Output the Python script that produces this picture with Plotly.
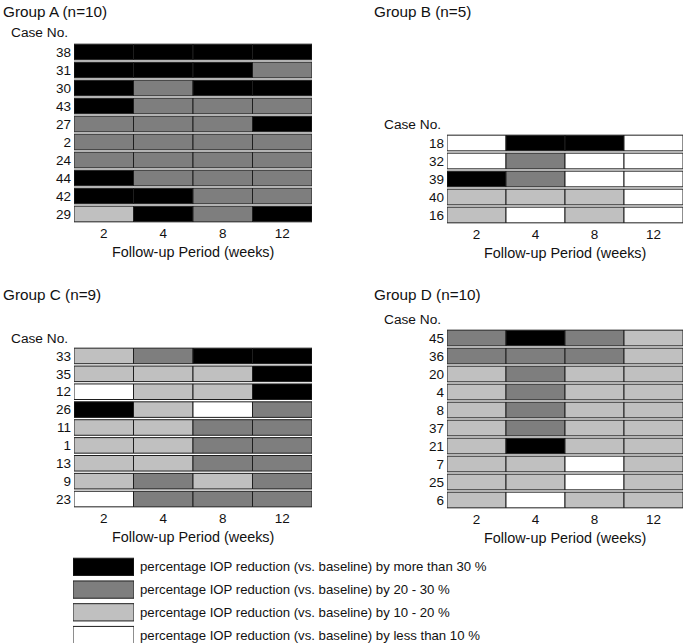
import plotly.graph_objects as go

W, H = 685, 643

weeks = ["2", "4", "8", "12"]

# Levels: 3 = >30 %, 2 = 20-30 %, 1 = 10-20 %, 0 = <10 %
cases_A = ["38", "31", "30", "43", "27", "2", "24", "44", "42", "29"]
levels_A = [[3, 3, 3, 3], [3, 3, 3, 2], [3, 2, 3, 3], [3, 2, 2, 2], [2, 2, 2, 3],
            [2, 2, 2, 2], [2, 2, 2, 2], [3, 2, 2, 2], [3, 3, 2, 2], [1, 3, 2, 3]]

cases_B = ["18", "32", "39", "40", "16"]
levels_B = [[0, 3, 3, 0], [0, 2, 0, 0], [3, 2, 0, 0], [1, 1, 1, 0], [1, 0, 1, 0]]

cases_C = ["33", "35", "12", "26", "11", "1", "13", "9", "23"]
levels_C = [[1, 2, 3, 3], [1, 1, 1, 3], [0, 1, 1, 3], [3, 1, 0, 2], [1, 1, 2, 2],
            [1, 1, 2, 2], [1, 1, 2, 2], [1, 2, 1, 2], [0, 2, 2, 2]]

cases_D = ["45", "36", "20", "4", "8", "37", "21", "7", "25", "6"]
levels_D = [[2, 3, 2, 1], [2, 2, 2, 1], [1, 2, 1, 1], [1, 2, 1, 1], [1, 2, 1, 1],
            [1, 2, 1, 1], [1, 3, 1, 1], [1, 1, 0, 1], [1, 1, 0, 1], [1, 0, 1, 1]]

legend_levels = [3, 2, 1, 0]
legend_labels = [
    "percentage IOP reduction (vs. baseline) by more than 30 %",
    "percentage IOP reduction (vs. baseline) by 20 - 30 %",
    "percentage IOP reduction (vs. baseline) by 10 - 20 %",
    "percentage IOP reduction (vs. baseline) by less than 10 %",
]

level_colors = {3: "#000000", 2: "#7e7e7e", 1: "#c0c0c0", 0: "#ffffff"}
EDGE = "#1e1e1e"
FONT = "Liberation Sans, Arial, sans-serif"


def px_x(p):
    return p / W


def px_y(p):
    return 1 - p / H


fig = go.Figure()

panels = [
    # name, cases, levels, x0, x1, ytop, ybottom, title, title_x, title_y, caseno_y
    ("A", cases_A, levels_A, 74, 312, 43, 223, "Group A (n=10)", 1, 11, 33),
    ("B", cases_B, levels_B, 447, 683, 134, 224, "Group B (n=5)", 372, 11, 124),
    ("C", cases_C, levels_C, 74, 312, 347, 508, "Group C (n=9)", 1, 294, 338),
    ("D", cases_D, levels_D, 447, 683, 329, 509, "Group D (n=10)", 372, 294, 319),
]

annotations = []
for i, (name, cases, levels, x0, x1, yt, yb, title, tx, ty, cy) in enumerate(panels):
    idx = i + 1
    xa = "x" if idx == 1 else f"x{idx}"
    ya = "y" if idx == 1 else f"y{idx}"
    for j in range(len(weeks)):
        fig.add_trace(go.Bar(
            y=cases,
            x=[1] * len(cases),
            base=[j] * len(cases),
            orientation="h",
            width=0.87,
            marker=dict(color=[level_colors[row[j]] for row in levels],
                        line=dict(color=EDGE, width=1)),
            xaxis=xa, yaxis=ya,
            showlegend=False, hoverinfo="skip",
        ))
    xkey = "xaxis" if idx == 1 else f"xaxis{idx}"
    ykey = "yaxis" if idx == 1 else f"yaxis{idx}"
    fig.update_layout(**{
        xkey: dict(domain=[px_x(x0), px_x(x1)], range=[0, 4], anchor=ya,
                   tickvals=[0.5, 1.5, 2.5, 3.5], ticktext=weeks,
                   showgrid=False, zeroline=False, showline=False, ticks="",
                   tickfont=dict(size=13.5, color="#111", family=FONT),
                   fixedrange=True),
        ykey: dict(domain=[px_y(yb), px_y(yt)], type="category",
                   categoryorder="array", categoryarray=cases,
                   range=[len(cases) - 0.5, -0.5], anchor=xa,
                   showgrid=False, zeroline=False, showline=False, ticks="",
                   ticklabelstandoff=2,
                   tickfont=dict(size=13.5, color="#111", family=FONT),
                   fixedrange=True),
    })
    annotations.append(dict(text=title, x=px_x(tx), y=px_y(ty), xref="paper", yref="paper",
                            xanchor="left", yanchor="middle", showarrow=False,
                            font=dict(size=15.3, color="#111", family=FONT)))
    annotations.append(dict(text="Case No.", x=px_x(x0 - 4), y=px_y(cy), xref="paper", yref="paper",
                            xanchor="right", yanchor="middle", showarrow=False,
                            font=dict(size=13.7, color="#111", family=FONT)))
    annotations.append(dict(text="Follow-up Period (weeks)", x=px_x((x0 + x1) / 2),
                            y=px_y(yb + 29), xref="paper", yref="paper",
                            xanchor="center", yanchor="middle", showarrow=False,
                            font=dict(size=14.4, color="#111", family=FONT)))

# Legend panel
fig.add_trace(go.Bar(
    y=legend_labels, x=[1] * 4, base=[0] * 4, orientation="h", width=0.76,
    marker=dict(color=[level_colors[l] for l in legend_levels],
                line=dict(color=EDGE, width=1)),
    xaxis="x5", yaxis="y5", showlegend=False, hoverinfo="skip",
))
fig.update_layout(
    xaxis5=dict(domain=[px_x(73), px_x(134)], range=[0, 1], anchor="y5",
                visible=False, fixedrange=True),
    yaxis5=dict(domain=[0, px_y(555.5)], type="category", categoryorder="array",
                categoryarray=legend_labels, range=[3.35, -0.5], anchor="x5",
                visible=False, fixedrange=True),
)
for k, lab in enumerate(legend_labels):
    annotations.append(dict(text=lab, x=px_x(138), y=k, xref="paper", yref="y5",
                            xanchor="left", yanchor="middle", showarrow=False,
                            font=dict(size=13.2, color="#111", family=FONT)))

fig.update_layout(
    width=W, height=H,
    margin=dict(l=0, r=0, t=0, b=0),
    paper_bgcolor="white", plot_bgcolor="white",
    barmode="overlay", bargap=0,
    annotations=annotations,
    font=dict(family=FONT, color="#111"),
)

fig.write_html("out.html",
               config={"displayModeBar": False, "staticPlot": True},
               post_script="document.body.style.margin='0';document.body.style.overflow='hidden';")
